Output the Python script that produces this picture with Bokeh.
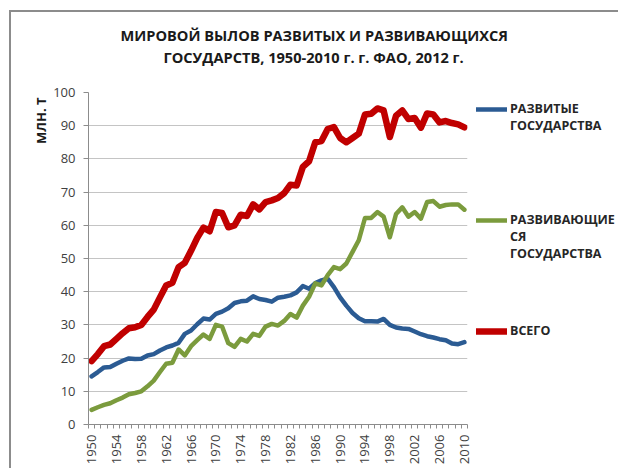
import math
from bokeh.plotting import figure
from bokeh.models import Legend, LegendItem, Title, FixedTicker, Range1d
from bokeh.embed import file_html
from bokeh.resources import INLINE

years = list(range(1950, 2011))
developed = [14.5, 15.8, 17.2, 17.3, 18.3, 19.2, 19.9, 19.7, 19.8, 20.8,
             21.2, 22.3, 23.2, 23.8, 24.6, 27.3, 28.3, 30.2, 31.9, 31.6,
             33.3, 34.0, 35.0, 36.6, 37.1, 37.3, 38.6, 37.8, 37.5, 37.0,
             38.2, 38.5, 38.9, 39.8, 41.7, 40.9, 42.6, 43.4, 43.9, 41.4,
             38.3, 35.8, 33.6, 32.0, 31.1, 31.1, 31.0, 31.8, 30.0, 29.2,
             28.9, 28.8, 28.0, 27.2, 26.6, 26.2, 25.7, 25.4, 24.4, 24.2,
             24.8]
developing = [4.4, 5.2, 5.9, 6.4, 7.3, 8.1, 9.1, 9.5, 10.0, 11.5,
              13.2, 15.8, 18.3, 18.6, 22.6, 20.8, 23.6, 25.4, 27.1, 25.8,
              30.0, 29.5, 24.5, 23.4, 25.8, 25.0, 27.3, 26.7, 29.5, 30.3,
              29.8, 31.2, 33.3, 32.2, 35.8, 38.5, 42.5, 41.9, 45.0, 47.4,
              46.8, 48.5, 52.0, 55.5, 62.2, 62.2, 64.0, 62.6, 56.4, 63.4,
              65.4, 62.6, 64.0, 62.0, 67.0, 67.3, 65.6, 66.1, 66.3, 66.3,
              64.7]
total = [19.1, 21.2, 23.6, 24.1, 25.8, 27.5, 29.0, 29.3, 30.0, 32.4,
         34.6, 38.3, 41.9, 42.7, 47.4, 48.7, 52.3, 56.2, 59.3, 58.2,
         64.0, 63.7, 59.4, 60.0, 63.2, 62.8, 66.3, 64.8, 67.0, 67.5,
         68.2, 69.7, 72.2, 72.0, 77.6, 79.3, 85.0, 85.4, 89.0, 89.6,
         86.3, 85.0, 86.3, 87.6, 93.4, 93.6, 95.2, 94.6, 86.6, 93.0,
         94.6, 92.0, 92.3, 89.4, 93.7, 93.4, 91.0, 91.4, 90.8, 90.4,
         89.5]
tick_years = list(range(1950, 2011, 4))
y_ticks = list(range(0, 101, 10))

title_lines = ["МИРОВОЙ ВЫЛОВ РАЗВИТЫХ И РАЗВИВАЮЩИХСЯ",
               "ГОСУДАРСТВ, 1950-2010 г. г. ФАО, 2012 г."]
y_title = "МЛН. Т"
# padding lines keep each legend line sample level with the first text line
series_labels = ["\nРАЗВИТЫЕ\nГОСУДАРСТВА",
                 "\n\nРАЗВИВАЮЩИЕ\nСЯ\nГОСУДАРСТВА",
                 "\u00a0\nВСЕГО\n\u00a0"]
colors = ["#2b5b93", "#7b9b3d", "#c00000"]
widths = [4.5, 4.5, 6.5]

FONT = "Open Sans"

p = figure(frame_width=379, frame_height=332, output_backend="svg", toolbar_location=None,
           x_range=Range1d(1949.5, 2010.5), y_range=Range1d(0, 100),
           min_border_left=88, min_border_right=151, min_border_top=92,
           min_border_bottom=44)
p.outline_line_color = None
p.background_fill_color = "white"
p.border_fill_alpha = 0
# chart-area frame (top and left edges) drawn behind the transparent border
p.styles = {
    "background-color": "white",
    "background-image": "linear-gradient(#8c8c8c, #8c8c8c), linear-gradient(#8c8c8c, #8c8c8c)",
    "background-size": "2000px 2px, 2px 2000px",
    "background-position": "9px 10px, 9px 10px",
    "background-repeat": "no-repeat",
}

p.xgrid.grid_line_color = None
p.ygrid.grid_line_color = "#c4c4c4"
p.ygrid.grid_line_width = 1

boundaries = [y - 0.5 for y in years] + [years[-1] + 0.5]
p.xaxis.ticker = FixedTicker(ticks=tick_years, minor_ticks=boundaries)
p.xaxis.major_label_orientation = math.pi / 2
p.xaxis.major_tick_out = 0
p.xaxis.major_tick_in = 0
p.xaxis.minor_tick_out = 4
p.xaxis.minor_tick_in = 0
p.xaxis.minor_tick_line_color = "#8c8c8c"
p.xaxis.axis_line_color = "#8c8c8c"
p.xaxis.major_label_standoff = 6
p.xaxis.major_label_text_font = FONT
p.xaxis.major_label_text_font_size = "13px"
p.xaxis.major_label_text_color = "#404040"

p.yaxis.ticker = FixedTicker(ticks=y_ticks)
p.yaxis.major_tick_out = 5
p.yaxis.major_tick_in = 0
p.yaxis.minor_tick_line_color = None
p.yaxis.major_tick_line_color = "#8c8c8c"
p.yaxis.axis_line_color = "#8c8c8c"
p.yaxis.major_label_standoff = 8
p.yaxis.major_label_text_font = FONT
p.yaxis.major_label_text_font_size = "13px"
p.yaxis.major_label_text_color = "#404040"

renderers = []
for vals, c, w in zip([developed, developing, total], colors, widths):
    r = p.line(years, vals, line_color=c, line_width=w, line_join="round", line_cap="round")
    renderers.append(r)

leg = Legend(items=[LegendItem(label=lab, renderers=[r]) for lab, r in zip(series_labels, renderers)],
             location=(9, 68), padding=0, margin=0, spacing=43,
             border_line_color=None, background_fill_alpha=0,
             glyph_width=31, glyph_height=18, label_standoff=3, label_height=17,
             label_text_font=FONT, label_text_font_size="12.5px",
             label_text_font_style="bold", label_text_color="#262626")
p.add_layout(leg, "right")

# titles: nearest to frame first
p.add_layout(Title(text=" ", text_font_size="10px", standoff=11), "above")
p.add_layout(Title(text=title_lines[1], align="left", offset=75, standoff=1,
                   vertical_align="middle", text_font=FONT, text_font_size="14.6px",
                   text_font_style="bold", text_color="#1a1a1a"), "above")
p.add_layout(Title(text=title_lines[0], align="left", offset=32, standoff=0,
                   vertical_align="middle", text_font=FONT, text_font_size="14.6px",
                   text_font_style="bold", text_color="#1a1a1a"), "above")
p.add_layout(Title(text=y_title, align="right", offset=5, standoff=2,
                   text_font=FONT, text_font_size="13px",
                   text_font_style="bold", text_color="#1a1a1a"), "left")

open("out.html", "w").write(file_html(p, INLINE))
